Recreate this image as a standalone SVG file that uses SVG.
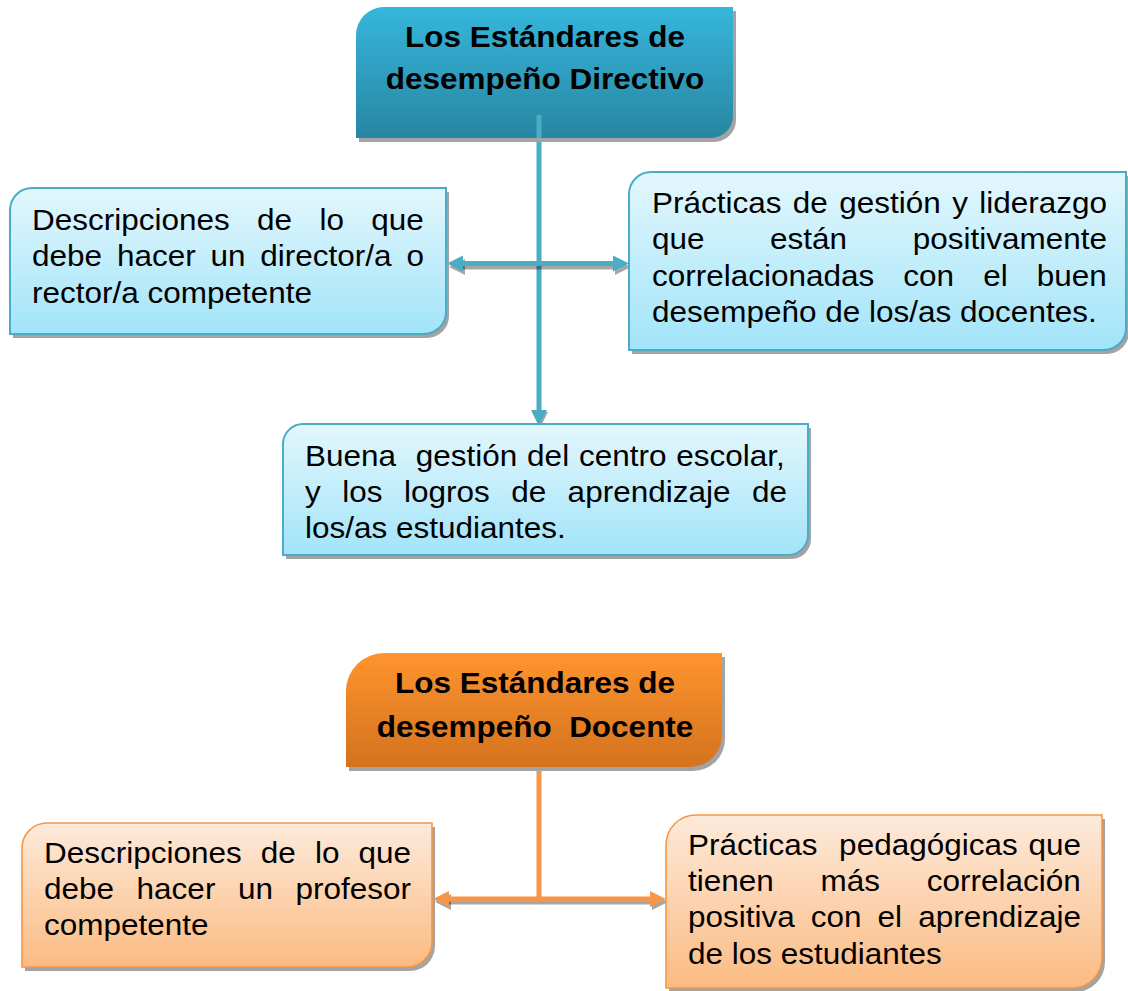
<svg xmlns="http://www.w3.org/2000/svg" width="1128" height="991" viewBox="0 0 1128 991">
<style>
.t{font-family:"Liberation Sans",Arial,sans-serif;font-size:29px;fill:#000}
.b{font-weight:bold}
.sh{fill:#a3a3a3}
.bbox{fill:url(#gBlueBox);stroke:#4bacc6;stroke-width:2}
.obox{fill:url(#gOrangeBox);stroke:#f79646;stroke-width:1.6}
.btitle{fill:url(#gBlueTitle)}
.otitle{fill:url(#gOrangeTitle)}
.bl{stroke:#4bacc6;stroke-width:5;fill:none}
.ol{stroke:#f79646;stroke-width:5;fill:none}
.bh{fill:#4bacc6}
.oh{fill:#f79646}
.cs{fill:#000;fill-opacity:0.35}
.csl{stroke:#000;stroke-opacity:0.35;stroke-width:5;fill:none}
</style>
<defs>
<linearGradient id="gBlueBox" x1="0" y1="0" x2="0" y2="1"><stop offset="0" stop-color="#e3f7fd"/><stop offset="1" stop-color="#a2e4f9"/></linearGradient>
<linearGradient id="gOrangeBox" x1="0" y1="0" x2="0" y2="1"><stop offset="0" stop-color="#fdeadb"/><stop offset="1" stop-color="#fbbb82"/></linearGradient>
<linearGradient id="gBlueTitle" x1="0" y1="0" x2="0" y2="1"><stop offset="0" stop-color="#36b6dc"/><stop offset="1" stop-color="#2886a2"/></linearGradient>
<linearGradient id="gOrangeTitle" x1="0" y1="0" x2="0" y2="1"><stop offset="0" stop-color="#fe942e"/><stop offset="1" stop-color="#d4721e"/></linearGradient>
</defs>

<g id="connectors">
  <line class="bl" x1="539" y1="115" x2="539" y2="412"/>
  <polygon class="cs" points="532,412 548,412 540,428"/>
  <polygon class="bh" points="531,410 547,410 539,426"/>
  <line class="csl" x1="462" y1="267" x2="616" y2="267"/>
  <polygon class="cs" points="449,267 465,259 465,275"/>
  <polygon class="cs" points="631,267 615,259 615,275"/>
  <line class="bl" x1="460" y1="263.5" x2="614" y2="263.5"/>
  <polygon class="bh" points="447,263.5 463,255.5 463,271.5"/>
  <polygon class="bh" points="629,263.5 613,255.5 613,271.5"/>
  <line class="ol" x1="539" y1="767" x2="539" y2="899"/>
  <line class="csl" x1="448" y1="902" x2="652" y2="902"/>
  <polygon class="cs" points="435,902 451,894 451,910"/>
  <polygon class="cs" points="668,902 652,894 652,910"/>
  <line class="ol" x1="446" y1="899" x2="650" y2="899"/>
  <polygon class="oh" points="433,899 449,891 449,907"/>
  <polygon class="oh" points="666,899 650,891 650,907"/>
</g>

<g id="titulo-directivo">
  <path class="sh" transform="translate(3,4)" d="M384,7 H733 V116 A22,22 0 0 1 711,138 H356 V35 A28,28 0 0 1 384,7 Z"/>
  <path class="btitle" d="M384,7 H733 V116 A22,22 0 0 1 711,138 H356 V35 A28,28 0 0 1 384,7 Z"/>
  <line class="bl" x1="539" y1="115" x2="539" y2="138"/>
  <text class="t b" text-anchor="middle" transform="matrix(1.0862 0 0 1 545 47)">Los Estándares de</text>
  <text class="t b" text-anchor="middle" transform="matrix(1.0862 0 0 1 545 89)">desempeño Directivo</text>
</g>

<g id="descripciones-director">
  <path class="sh" transform="translate(3,4)" d="M32,188 H446 V312 A22,22 0 0 1 424,334 H10 V210 A22,22 0 0 1 32,188 Z"/>
  <path class="bbox" d="M32,188 H446 V312 A22,22 0 0 1 424,334 H10 V210 A22,22 0 0 1 32,188 Z"/>
  <text class="t" word-spacing="17.1" transform="matrix(1.0862 0 0 1 32 230)">Descripciones de lo que</text>
  <text class="t" word-spacing="5.6" transform="matrix(1.0862 0 0 1 32 266)">debe hacer un director/a o</text>
  <text class="t" transform="matrix(1.0862 0 0 1 32 303)">rector/a competente</text>
</g>

<g id="practicas-gestion">
  <path class="sh" transform="translate(3,4)" d="M651,172 H1126 V328 A22,22 0 0 1 1104,350 H629 V194 A22,22 0 0 1 651,172 Z"/>
  <path class="bbox" d="M651,172 H1126 V328 A22,22 0 0 1 1104,350 H629 V194 A22,22 0 0 1 651,172 Z"/>
  <text class="t" word-spacing="2.4" transform="matrix(1.0862 0 0 1 652 213)">Prácticas de gestión y liderazgo</text>
  <text class="t" word-spacing="52.3" transform="matrix(1.0862 0 0 1 652 249)">que están positivamente</text>
  <text class="t" word-spacing="18.7" transform="matrix(1.0862 0 0 1 652 286)">correlacionadas con el buen</text>
  <text class="t" transform="matrix(1.0862 0 0 1 652 322)">desempeño de los/as docentes.</text>
</g>

<g id="buena-gestion">
  <path class="sh" transform="translate(3,4)" d="M303,424 H808 V535 A20,20 0 0 1 788,555 H283 V444 A20,20 0 0 1 303,424 Z"/>
  <path class="bbox" d="M303,424 H808 V535 A20,20 0 0 1 788,555 H283 V444 A20,20 0 0 1 303,424 Z"/>
  <text class="t" xml:space="preserve" style="white-space:pre" word-spacing="1" transform="matrix(1.0862 0 0 1 305 466)">Buena  gestión del centro escolar,</text>
  <text class="t" word-spacing="11.7" transform="matrix(1.0862 0 0 1 305 502)">y los logros de aprendizaje de</text>
  <text class="t" transform="matrix(1.0862 0 0 1 305 538)">los/as estudiantes.</text>
</g>

<g id="titulo-docente">
  <path class="sh" transform="translate(3,4)" d="M384,653 H722 V735 A32,32 0 0 1 690,767 H346 V691 A38,38 0 0 1 384,653 Z"/>
  <path class="otitle" d="M384,653 H722 V735 A32,32 0 0 1 690,767 H346 V691 A38,38 0 0 1 384,653 Z"/>
  <text class="t b" text-anchor="middle" transform="matrix(1.0862 0 0 1 535 693)">Los Estándares de</text>
  <text class="t b" text-anchor="middle" xml:space="preserve" style="white-space:pre" transform="matrix(1.0862 0 0 1 535 737)">desempeño  Docente</text>
</g>

<g id="descripciones-profesor">
  <path class="sh" transform="translate(3,4)" d="M47,823 H432 V942 A25,25 0 0 1 407,967 H22 V848 A25,25 0 0 1 47,823 Z"/>
  <path class="obox" d="M47,823 H432 V942 A25,25 0 0 1 407,967 H22 V848 A25,25 0 0 1 47,823 Z"/>
  <text class="t" word-spacing="9.5" transform="matrix(1.0862 0 0 1 44 863)">Descripciones de lo que</text>
  <text class="t" word-spacing="12.7" transform="matrix(1.0862 0 0 1 44 899)">debe hacer un profesor</text>
  <text class="t" transform="matrix(1.0862 0 0 1 44 935)">competente</text>
</g>

<g id="practicas-pedagogicas">
  <path class="sh" transform="translate(3,4)" d="M696,815 H1102 V958 A30,30 0 0 1 1072,988 H666 V845 A30,30 0 0 1 696,815 Z"/>
  <path class="obox" d="M696,815 H1102 V958 A30,30 0 0 1 1072,988 H666 V845 A30,30 0 0 1 696,815 Z"/>
  <text class="t" xml:space="preserve" style="white-space:pre" word-spacing="1.9" transform="matrix(1.0862 0 0 1 688 855)">Prácticas  pedagógicas que</text>
  <text class="t" word-spacing="35" transform="matrix(1.0862 0 0 1 688 891)">tienen más correlación</text>
  <text class="t" word-spacing="6.7" transform="matrix(1.0862 0 0 1 688 927)">positiva con el aprendizaje</text>
  <text class="t" transform="matrix(1.0862 0 0 1 688 964)">de los estudiantes</text>
</g>
</svg>
